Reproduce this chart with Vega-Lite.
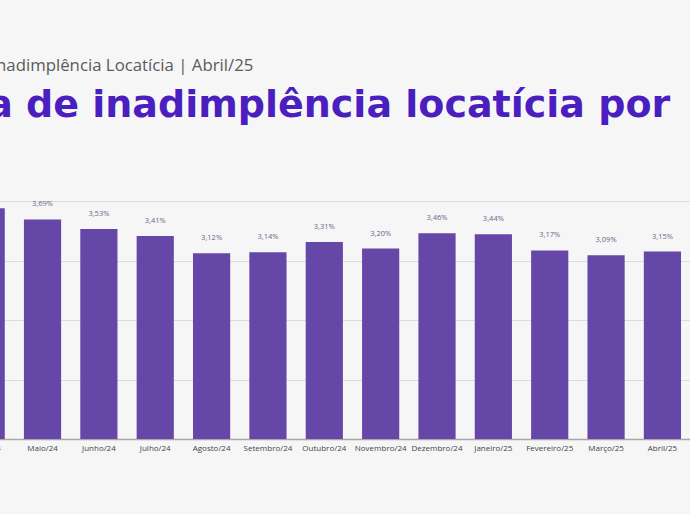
{
  "$schema": "https://vega.github.io/schema/vega-lite/v6.json",
  "width": 690,
  "height": 238,
  "autosize": {"type": "none"},
  "padding": {"top": 201, "left": 0, "right": 0, "bottom": 75},
  "background": "#f6f6f6",
  "title": {
    "text": "Índice de Inadimplência Locatícia | Abril/25",
    "subtitle": "Taxa de inadimplência locatícia por",
    "anchor": "start",
    "frame": "group",
    "dx": -84,
    "offset": 64,
    "font": "Open Sans",
    "fontSize": 16.8,
    "fontWeight": "normal",
    "color": "#5a5a5a",
    "subtitleFont": "DejaVu Sans",
    "subtitleFontSize": 38,
    "subtitleFontWeight": "bold",
    "subtitleColor": "#4a1ebf",
    "subtitlePadding": 12
  },
  "data": {
    "values": [
      {"mes": "Abril/24", "valor": 3.88, "rotulo": "3,88%"},
      {"mes": "Maio/24", "valor": 3.69, "rotulo": "3,69%"},
      {"mes": "Junho/24", "valor": 3.53, "rotulo": "3,53%"},
      {"mes": "Julho/24", "valor": 3.41, "rotulo": "3,41%"},
      {"mes": "Agosto/24", "valor": 3.12, "rotulo": "3,12%"},
      {"mes": "Setembro/24", "valor": 3.14, "rotulo": "3,14%"},
      {"mes": "Outubro/24", "valor": 3.31, "rotulo": "3,31%"},
      {"mes": "Novembro/24", "valor": 3.20, "rotulo": "3,20%"},
      {"mes": "Dezembro/24", "valor": 3.46, "rotulo": "3,46%"},
      {"mes": "Janeiro/25", "valor": 3.44, "rotulo": "3,44%"},
      {"mes": "Fevereiro/25", "valor": 3.17, "rotulo": "3,17%"},
      {"mes": "Março/25", "valor": 3.09, "rotulo": "3,09%"},
      {"mes": "Abril/25", "valor": 3.15, "rotulo": "3,15%"}
    ]
  },
  "encoding": {
    "x": {
      "field": "mes",
      "type": "nominal",
      "sort": null,
      "scale": {"range": [-42, 690.6], "paddingInner": 0.34, "paddingOuter": 0.17},
      "axis": {
        "title": null,
        "labelAngle": 0,
        "labelFontSize": 8,
        "labelColor": "#444444",
        "labelFont": "Open Sans",
        "ticks": false,
        "domainColor": "#a8a8a8",
        "domainWidth": 1.5,
        "labelPadding": 5,
        "labelOverlap": false,
        "labelBound": false,
        "labelFlush": false
      }
    },
    "y": {
      "field": "valor",
      "type": "quantitative",
      "scale": {"domain": [0, 4]},
      "axis": {
        "title": null,
        "labels": false,
        "ticks": false,
        "domain": false,
        "values": [0, 1, 2, 3, 4],
        "gridColor": "#dcdcdc",
        "gridWidth": 1
      }
    }
  },
  "layer": [
    {"mark": {"type": "bar", "color": "#6547a8"}},
    {
      "mark": {"type": "text", "baseline": "middle", "dy": -15, "fontSize": 7.5, "font": "Open Sans", "color": "#66668a"},
      "encoding": {"text": {"field": "rotulo"}}
    }
  ],
  "config": {"view": {"stroke": null}}
}
